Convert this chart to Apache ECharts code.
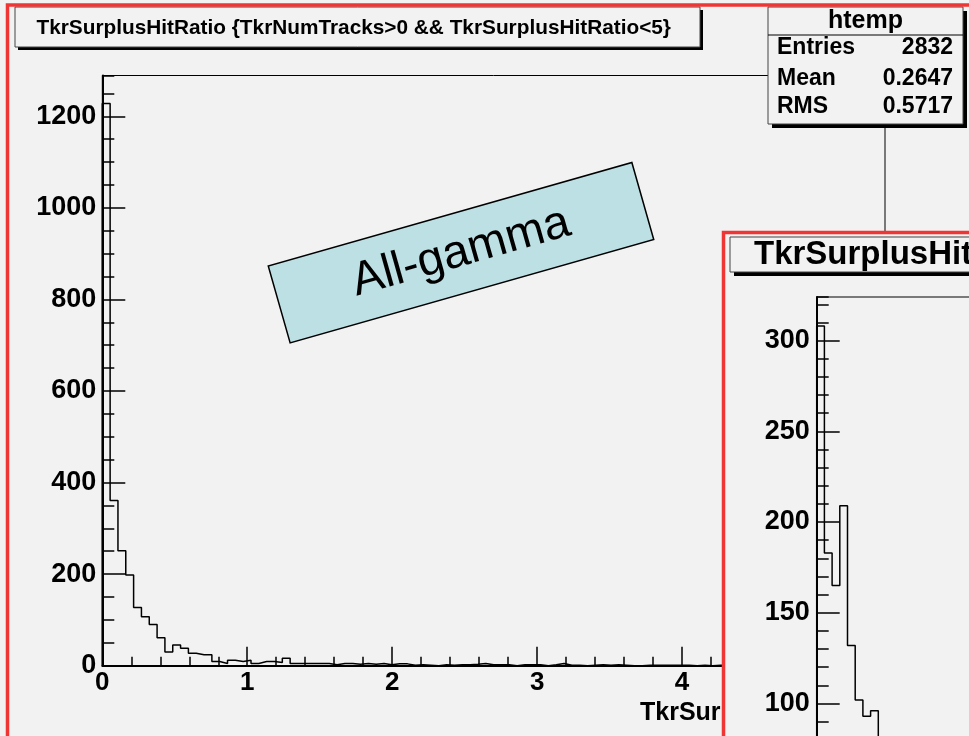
<!DOCTYPE html>
<html><head><meta charset="utf-8">
<script src="https://cdn.jsdelivr.net/npm/echarts@6/dist/echarts.min.js"></script>
<style>html,body{margin:0;padding:0;background:#f2f2f2}#c{width:969px;height:736px}</style>
</head><body><div id="c"></div>
<script>
// ---- text ----
const mainTitle = 'TkrSurplusHitRatio {TkrNumTracks>0 && TkrSurplusHitRatio<5}';
const xAxisTitle = 'TkrSurplusHitRatio';
const statsName = 'htemp';
const statsLabels = ['Entries', 'Mean', 'RMS'];
const statsValues = ['2832', '0.2647', '0.5717'];
const annotation = 'All-gamma';
const insetTitle = 'TkrSurplusHitRatio {TkrNumTracks>0 && TkrSurplusHitRatio<5}';

// ---- main histogram (100 bins) ----
const mainRange = [0, 5.4];
const mainYMax = 1289;
const mainYMajor = 200, mainYMinor = 50, mainXMajor = 1, mainXMinor = 0.2;
const mainCounts = [
  1228, 361, 251, 198, 127, 107, 90, 61, 30, 45,
  38, 27, 24, 24, 9, 5, 12, 9, 12, 5,
  9, 9, 7, 16, 5, 5, 5, 5, 5, 2,
  5, 5, 3, 5, 3, 5, 2, 4, 4, 1,
  2, 1, 0, 2, 1, 2, 2, 3, 5, 2,
  2, 2, 0, 2, 2, 2, 0, 2, 5, 1,
  1, 0, 1, 2, 1, 2, 1, 0, 0, 1,
  1, 1, 1, 1, 1, 0, 1, 0, 1, 1,
  1, 0, 1, 0, 1, 0, 0, 1, 0, 1,
  0, 0, 1, 0, 0, 1, 0, 0, 0, 1
];

// ---- inset histogram (only the visible first bins) ----
const insetRange = [0, 5.4];
const insetBins = 100;
const insetYMax = 324;
const insetYMajor = 50, insetYMinor = 10;
const insetCounts = [308, 183, 165, 209, 132, 102, 93, 96];

function stepData(counts, x0, w) {
  const d = [[x0, 0]];
  counts.forEach((c, i) => d.push([x0 + i * w, c]));
  d.push([x0 + counts.length * w, 0]);
  return d;
}
const mainBw = (mainRange[1] - mainRange[0]) / mainCounts.length;
const insetBw = (insetRange[1] - insetRange[0]) / insetBins;

const FF = '"Liberation Sans", Arial, Helvetica, sans-serif';
const BG = '#f2f2f2';
const RED = '#f03535';
const plain = v => String(v);

function txt(text, x, y, size, align, vAlign, z, weight) {
  return { type: 'text', z: z, style: { text: text, x: x, y: y, fill: '#000',
    font: (weight || 'bold') + ' ' + size + 'px ' + FF,
    align: align, verticalAlign: vAlign, textAlign: align, textVerticalAlign: vAlign } };
}

const chart = echarts.init(document.getElementById('c'), null, { renderer: 'canvas' });
const option = {
  backgroundColor: BG,
  animation: false,
  grid: [
    { left: 102.3, top: 75.5, width: 782.7, height: 590.2, show: true, borderColor: '#000', borderWidth: 1, backgroundColor: 'transparent', z: 0, containLabel: false, outerBoundsMode: 'none' },
    { left: 816.7, top: 297, width: 770, height: 588, show: true, borderColor: '#000', borderWidth: 1, backgroundColor: 'transparent', z: 30, containLabel: false, outerBoundsMode: 'none' }
  ],
  xAxis: [
    { gridIndex: 0, type: 'value', position: 'bottom', min: mainRange[0], max: mainRange[1], interval: mainXMajor,
      axisLine: { onZero: false, lineStyle: { color: '#000', width: 2 } },
      axisTick: { inside: true, length: 19, lineStyle: { color: '#000', width: 1.5 } },
      axisLabel: { margin: 4, color: '#000', fontFamily: FF, fontWeight: 'bold', fontSize: 26, showMaxLabel: false, formatter: plain },
      splitLine: { show: false }, z: 1 },
    { gridIndex: 0, type: 'value', position: 'bottom', min: mainRange[0], max: mainRange[1], interval: mainXMinor,
      axisLine: { show: false, onZero: false },
      axisTick: { inside: true, length: 9, lineStyle: { color: '#000', width: 1.5 } },
      axisLabel: { show: false }, splitLine: { show: false }, z: 1 },
    { gridIndex: 1, type: 'value', position: 'bottom', min: insetRange[0], max: insetRange[1], show: false }
  ],
  yAxis: [
    { gridIndex: 0, type: 'value', position: 'left', min: 0, max: mainYMax, interval: mainYMajor,
      axisLine: { show: true, onZero: false, lineStyle: { color: '#000', width: 2 } },
      axisTick: { show: true, inside: true, length: 23, lineStyle: { color: '#000', width: 1.5 } },
      axisLabel: { margin: 6, color: '#000', fontFamily: FF, fontWeight: 'bold', fontSize: 27, showMaxLabel: false, formatter: plain },
      splitLine: { show: false }, z: 1 },
    { gridIndex: 0, type: 'value', position: 'left', min: 0, max: mainYMax, interval: mainYMinor,
      axisLine: { show: false, onZero: false },
      axisTick: { show: true, inside: true, length: 12, lineStyle: { color: '#000', width: 1.5 } },
      axisLabel: { show: false }, splitLine: { show: false }, z: 1 },
    { gridIndex: 1, type: 'value', position: 'left', min: 0, max: insetYMax, interval: insetYMajor,
      axisLine: { show: true, onZero: false, lineStyle: { color: '#000', width: 2 } },
      axisTick: { show: true, inside: true, length: 23, lineStyle: { color: '#000', width: 1.5 } },
      axisLabel: { margin: 7, color: '#000', fontFamily: FF, fontWeight: 'bold', fontSize: 27, showMaxLabel: false, formatter: plain },
      splitLine: { show: false }, z: 31 },
    { gridIndex: 1, type: 'value', position: 'left', min: 0, max: insetYMax, interval: insetYMinor,
      axisLine: { show: false, onZero: false },
      axisTick: { show: true, inside: true, length: 12, lineStyle: { color: '#000', width: 1.5 } },
      axisLabel: { show: false }, splitLine: { show: false }, z: 31 }
  ],
  series: [
    { type: 'line', xAxisIndex: 0, yAxisIndex: 0, step: 'end', symbol: 'none', clip: true,
      lineStyle: { color: '#000', width: 1.5 }, data: stepData(mainCounts, mainRange[0], mainBw), z: 2 },
    { type: 'line', xAxisIndex: 2, yAxisIndex: 2, step: 'end', symbol: 'none', clip: true,
      lineStyle: { color: '#000', width: 1.5 }, data: stepData(insetCounts, insetRange[0], insetBw), z: 32 }
  ],
  graphic: [
    // x axis title
    txt(xAxisTitle, 640, 713, 25, 'left', 'middle', 5),
    // main title box
    { type: 'rect', z: 10, shape: { x: 18, y: 10, width: 685, height: 40 }, style: { fill: '#000' } },
    { type: 'rect', z: 11, shape: { x: 15, y: 7, width: 685, height: 40 }, style: { fill: BG, stroke: '#444', lineWidth: 1 } },
    txt(mainTitle, 36.5, 28, 20.8, 'left', 'middle', 12),
    // stats box
    { type: 'rect', z: 10, shape: { x: 772, y: 11, width: 195, height: 117 }, style: { fill: '#000' } },
    { type: 'rect', z: 11, shape: { x: 768, y: 7, width: 195, height: 117 }, style: { fill: BG, stroke: '#444', lineWidth: 1 } },
    { type: 'line', z: 12, shape: { x1: 768, y1: 35, x2: 963, y2: 35 }, style: { stroke: '#000', lineWidth: 1 } },
    txt(statsName, 865.5, 21, 25, 'center', 'middle', 12),
    txt(statsLabels[0], 777, 48, 23, 'left', 'middle', 12),
    txt(statsLabels[1], 777, 79, 23, 'left', 'middle', 12),
    txt(statsLabels[2], 777, 107, 23, 'left', 'middle', 12),
    txt(statsValues[0], 953, 48, 23, 'right', 'middle', 12),
    txt(statsValues[1], 953, 79, 23, 'right', 'middle', 12),
    txt(statsValues[2], 953, 107, 23, 'right', 'middle', 12),
    // annotation box
    { type: 'group', z: 12, x: 461, y: 252.7, rotation: 0.277, children: [
      { type: 'rect', z: 12, shape: { x: -189, y: -40, width: 378, height: 80 }, style: { fill: '#bde0e4', stroke: '#000', lineWidth: 1.5 } },
      txt(annotation, 0, 0, 47, 'center', 'middle', 13, 'normal')
    ] },
    // main red border
    { type: 'rect', z: 15, shape: { x: 7.5, y: 5, width: 1200, height: 1200 }, style: { fill: 'none', stroke: RED, lineWidth: 3.5 } },
    // inset pad
    { type: 'rect', z: 20, shape: { x: 723.5, y: 232.5, width: 600, height: 800 }, style: { fill: BG, stroke: RED, lineWidth: 3.5 } },
    { type: 'rect', z: 21, shape: { x: 734, y: 241, width: 600, height: 35 }, style: { fill: '#000' } },
    { type: 'rect', z: 22, shape: { x: 730, y: 237, width: 600, height: 35 }, style: { fill: BG, stroke: '#444', lineWidth: 1 } },
    txt(insetTitle, 754, 254.5, 33, 'left', 'middle', 23)
  ]
};
chart.setOption(option);
</script></body></html>
